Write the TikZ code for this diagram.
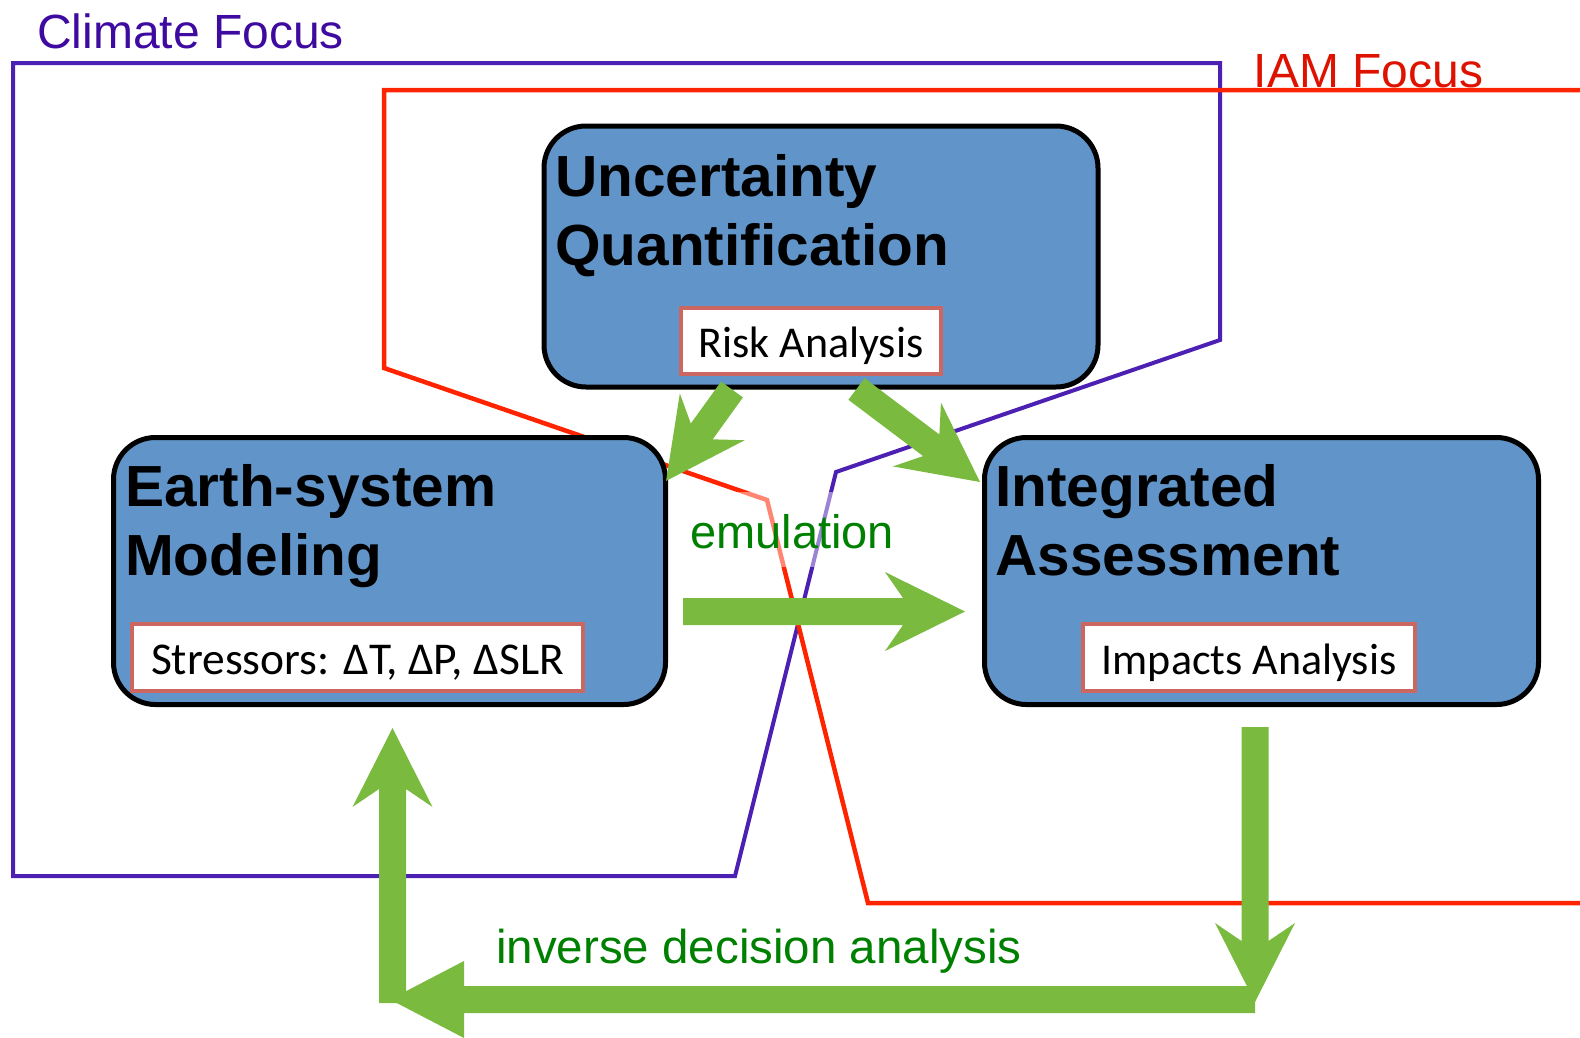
\documentclass[tikz,border=0pt]{standalone}
\usepackage{fontspec}
\setmainfont{Liberation Sans}
\newfontfamily\calib{Carlito}
\newfontfamily\headfont[FakeStretch=1.01]{Liberation Sans}
\definecolor{boxblue}{RGB}{97,149,201}
\definecolor{agreen}{RGB}{122,187,63}
\definecolor{tgreen}{RGB}{0,128,0}
\definecolor{cpurple}{RGB}{76,32,178}
\definecolor{cpurpletext}{RGB}{62,10,160}
\definecolor{cred}{RGB}{255,36,0}
\definecolor{credtext}{RGB}{222,18,0}
\definecolor{subborder}{RGB}{204,102,96}
\newcommand{\blockarrow}[6]{%
  \path (#1); \pgfgetlastxy{\bax}{\bay}%
  \path (#2); \pgfgetlastxy{\bbx}{\bby}%
  \pgfmathsetmacro{\baang}{atan2(\bby-\bay,\bbx-\bax)}%
  \pgfmathsetmacro{\balen}{veclen(\bbx-\bax,\bby-\bay)}%
  \fill[agreen, shift={(#1)}, rotate=\baang]
    (0pt,-#3pt) -- (\balen pt-#5pt+#6pt,-#3pt) -- (\balen pt-#5pt,-#4pt)
    -- (\balen pt,0pt) -- (\balen pt-#5pt,#4pt) -- (\balen pt-#5pt+#6pt,#3pt)
    -- (0pt,#3pt) -- cycle;}
\tikzset{
  purpleline/.style={draw=cpurple, line width=4pt, line join=miter},
  redline/.style={draw=cred, line width=4.5pt, line join=miter},
  bigbox/.style={draw=black, line width=5pt, fill=boxblue, rounded corners=42pt, inner sep=0pt},
  subbox/.style={draw=subborder, line width=4pt, fill=white, inner sep=0pt,
    font=\calib\fontsize{44}{52}\selectfont, text height=40pt, text depth=6.5pt},
  heading/.style={anchor=base west, inner sep=0pt, align=left,
    font=\headfont\fontsize{58}{69}\selectfont\bfseries},
  focuslabel/.style={anchor=base west, inner sep=0pt, font=\fontsize{48}{56}\selectfont},
  greenlabel/.style={anchor=base west, inner sep=0pt, text=tgreen, font=\fontsize{47.5}{56}\selectfont}
}
\begin{document}
\begin{tikzpicture}[x=1pt, y=-1pt]
\useasboundingbox (0,0) rectangle (1580,1037);
% focus outlines
\draw[purpleline] (13,63) -- (1220,63) -- (1220,340) -- (836,472) -- (735,876) -- (13,876) -- cycle;
\draw[redline] (1590,90) -- (384,90) -- (384,368) -- (767,500) -- (868,903) -- (1590,903);
\node[focuslabel, text=cpurpletext] (clim) at (37,48) {Climate Focus};
\node[focuslabel, text=credtext] (iam) at (1253.5,87) {IAM Focus};
% emulation label with translucent background
\node[greenlabel, font=\fontsize{47}{56}\selectfont, fill=white, fill opacity=0.45, text opacity=1,
      inner xsep=8pt, text height=56pt, text depth=19pt] (emu) at (682,548) {emulation};
% main boxes
\node[bigbox, minimum width=554pt, minimum height=261pt] (uq) at (821,256.5) {};
\node[bigbox, minimum width=552pt, minimum height=267pt] (esm) at (389.5,571) {};
\node[bigbox, minimum width=554pt, minimum height=267pt] (ia) at (1261.5,571) {};
\node[heading] (uqt) at (555,265) {Uncertainty\\Quantification};
\node[heading] (esmt) at (125,575) {Earth-system\\Modeling};
\node[heading] (iat) at (995,575) {Integrated\\Assessment};
% sub boxes
\node[subbox, minimum width=260pt, minimum height=66pt] (risk) at (811,341) {Risk Analysis};
\node[subbox, minimum width=451pt, minimum height=67pt] (stress) at (357.5,657.5) {\fontsize{45.5}{52}\selectfont Stressors: ΔT, ΔP, ΔSLR\hspace{6pt}};
\node[subbox, minimum width=332pt, minimum height=67pt] (imp) at (1249,657.5) {Impacts Analysis};
% bottom label
\node[greenlabel] (ida) at (496,963) {inverse decision analysis};
% arrow end points
\coordinate (a1s) at (732,389.5);  \coordinate (a1e) at (666,481);
\coordinate (a2s) at (856.5,389);  \coordinate (a2e) at (980,482);
\coordinate (a3s) at (683,611.5);  \coordinate (a3e) at (965,611.5);
\coordinate (a4s) at (1255,727);   \coordinate (a4e) at (1255,1002);
\coordinate (a5s) at (1255,999.5); \coordinate (a5e) at (390,999.5);
\coordinate (a6s) at (392.5,1003); \coordinate (a6e) at (392.5,728);
% green block arrows
\blockarrow{a1s}{a1e}{13.5}{40}{79}{18}
\blockarrow{a2s}{a2e}{13.5}{40}{79}{18}
\blockarrow{a3s}{a3e}{13.5}{39.5}{80}{18}
\blockarrow{a5s}{a5e}{13.5}{38.5}{74}{0}
\blockarrow{a4s}{a4e}{13.5}{40}{79}{18}
\blockarrow{a6s}{a6e}{13.5}{40}{79}{18}
\end{tikzpicture}
\end{document}
